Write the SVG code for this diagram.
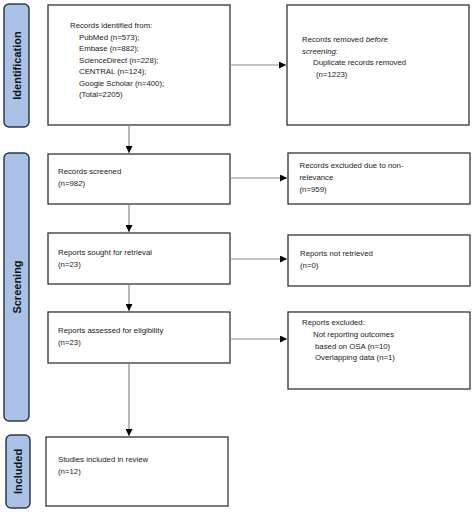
<svg xmlns="http://www.w3.org/2000/svg" width="474" height="512" viewBox="0 0 474 512">
<style>
.box{fill:#fff;stroke:#333;stroke-width:1.3}
.lab{fill:#a9c2e6;stroke:#2e3a4c;stroke-width:1.5}
.t{font-family:"Liberation Sans",Arial,sans-serif;font-size:7.8px;fill:#222}
.lt{font-family:"Liberation Sans",Arial,sans-serif;font-size:11px;font-weight:bold;fill:#111;text-anchor:middle;dominant-baseline:central}
.c{stroke:#888;stroke-width:1.2;fill:none;marker-end:url(#ah)}
</style>
<defs>
<marker id="ah" viewBox="0 0 10 10" refX="10" refY="5" markerWidth="7" markerHeight="7" markerUnits="userSpaceOnUse" orient="auto">
<path d="M0,0 L10,5 L0,10 z" fill="#000"/>
</marker>
</defs>
<rect width="474" height="512" fill="#fff"/>
<g id="label-identification">
<rect class="lab" x="4" y="4" width="25" height="123" rx="5"/>
<text class="lt" transform="translate(16.5,65.5) rotate(-90)">Identification</text>
</g>
<g id="label-screening">
<rect class="lab" x="4" y="153" width="25" height="268" rx="5"/>
<text class="lt" transform="translate(16.5,287) rotate(-90)">Screening</text>
</g>
<g id="label-included">
<rect class="lab" x="6" y="435" width="24" height="73" rx="5"/>
<text class="lt" transform="translate(18,471.5) rotate(-90)">Included</text>
</g>
<g id="identified">
<rect class="box" x="48" y="5" width="182" height="120"/>
<text class="t" x="70" y="28">Records identified from:</text>
<text class="t" x="79" y="39.5">PubMed (n=573);</text>
<text class="t" x="79" y="51">Embase (n=882);</text>
<text class="t" x="79" y="62.7">ScienceDirect (n=228);</text>
<text class="t" x="79" y="74.2">CENTRAL (n=124);</text>
<text class="t" x="79" y="85.7">Google Scholar (n=400);</text>
<text class="t" x="79" y="97.3">(Total=2205)</text>
</g>
<g id="removed">
<rect class="box" x="287" y="5" width="182" height="120"/>
<text class="t" x="302" y="42">Records removed <tspan font-style="italic">before</tspan></text>
<text class="t" x="302" y="53.5" font-style="italic">screening:</text>
<text class="t" x="313" y="65">Duplicate records removed</text>
<text class="t" x="316" y="76.5">(n=1223)</text>
</g>
<g id="screened">
<rect class="box" x="48" y="154" width="182" height="50"/>
<text class="t" x="58" y="174">Records screened</text>
<text class="t" x="58" y="186">(n=982)</text>
</g>
<g id="excluded-nonrelevance">
<rect class="box" x="288" y="153" width="182" height="51"/>
<text class="t" x="299.5" y="168">Records excluded due to non-</text>
<text class="t" x="299.5" y="180">relevance</text>
<text class="t" x="299.5" y="192">(n=959)</text>
</g>
<g id="sought">
<rect class="box" x="48" y="233" width="182" height="51"/>
<text class="t" x="58" y="255">Reports sought for retrieval</text>
<text class="t" x="58" y="267">(n=23)</text>
</g>
<g id="not-retrieved">
<rect class="box" x="288" y="235" width="182" height="51"/>
<text class="t" x="300" y="256">Reports not retrieved</text>
<text class="t" x="300" y="268">(n=0)</text>
</g>
<g id="assessed">
<rect class="box" x="48" y="312" width="182" height="51"/>
<text class="t" x="58" y="333">Reports assessed for eligibility</text>
<text class="t" x="58" y="345">(n=23)</text>
</g>
<g id="reports-excluded">
<rect class="box" x="288" y="312" width="182" height="77"/>
<text class="t" x="302" y="325">Reports excluded:</text>
<text class="t" x="313" y="337">Not reporting outcomes</text>
<text class="t" x="315" y="348.5">based on OSA (n=10)</text>
<text class="t" x="315" y="360">Overlapping data (n=1)</text>
</g>
<g id="included">
<rect class="box" x="46" y="437" width="182" height="69"/>
<text class="t" x="58" y="462">Studies included in review</text>
<text class="t" x="58" y="474">(n=12)</text>
</g>
<g id="connectors">
<path class="c" d="M230,65 H286"/>
<path class="c" d="M129,125 V153"/>
<path class="c" d="M230,178 H287"/>
<path class="c" d="M129,204 V232"/>
<path class="c" d="M230,259 H287"/>
<path class="c" d="M129,284 V311"/>
<path class="c" d="M230,339 H287"/>
<path class="c" d="M129,363 V436"/>
</g>
</svg>
